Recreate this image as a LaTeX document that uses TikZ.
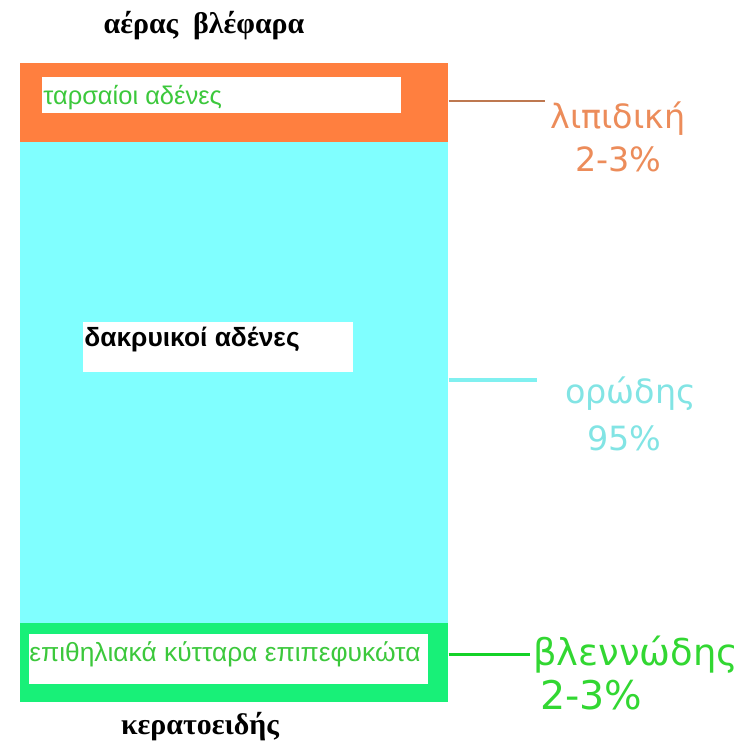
\documentclass[tikz,border=0pt]{standalone}
\usepackage{fontspec}
\setmainfont{Liberation Sans}
\newfontfamily\labelfont{DejaVu Sans}
\newfontfamily\titlefont{Liberation Serif}
\usetikzlibrary{positioning}
\definecolor{lipidfill}{RGB}{255,127,63}
\definecolor{aqueousfill}{RGB}{128,255,255}
\definecolor{mucinfill}{RGB}{24,240,120}
\definecolor{glandgreen}{RGB}{60,200,60}
\definecolor{lipidtext}{RGB}{236,140,90}
\definecolor{aqueoustext}{RGB}{130,228,228}
\definecolor{mucintext}{RGB}{50,215,50}
\definecolor{lipidline}{RGB}{190,120,80}
\definecolor{aqueousline}{RGB}{128,240,240}
\definecolor{mucinline}{RGB}{20,210,40}

\begin{document}
\begin{tikzpicture}[
        x=0.02cm, y=-0.02cm,
        layer/.style={rectangle, draw=none, minimum width=8.56cm, inner sep=0pt, anchor=north west},
        whitebox/.style={rectangle, fill=white, inner sep=0pt, anchor=north west},
        gland/.style={anchor=base west, inner sep=0pt, font=\fontsize{14.5}{17}\selectfont},
        layername/.style={anchor=base west, inner sep=0pt, font=\labelfont\fontsize{19}{22}\selectfont},
        side/.style={anchor=base, inner sep=0pt, font=\titlefont\bfseries\fontsize{17}{20}\selectfont},
        link/.style={line width=1.7pt}
    ]
        \useasboundingbox (0,0) rectangle (741,744);
        % tear film layers
        \node[layer, fill=lipidfill, minimum height=1.58cm] (lipid) at (20,63) {};
        \node[layer, fill=aqueousfill, minimum height=9.62cm] (aqueous) at (20,142) {};
        \node[layer, fill=mucinfill, minimum height=1.58cm] (mucin) at (20,623) {};
        
        \node[whitebox, minimum width=7.18cm, minimum height=0.72cm] (tarsalbox) at (42,77) {};
        \node[whitebox, minimum width=5.4cm, minimum height=1cm] (lacrimalbox) at (83,322) {};
        \node[whitebox, minimum width=7.98cm, minimum height=1cm] (epithbox) at (29,634) {};
        
        \node[gland, text=glandgreen] (tarsal) at (43,104) {ταρσαίοι αδένες};
        \node[gland, font=\bfseries\fontsize{15}{18}\selectfont] (lacrimal) at (84,346) {δακρυικοί αδένες};
        \node[gland, text=glandgreen, font=\fontsize{15}{18}\selectfont] (epith) at (29,661) {επιθηλιακά κύτταρα επιπεφυκώτα};
        
        \node[side] (air) at (204,33) {αέρας\ \ βλέφαρα};
        \node[side] (cornea) at (200,734) {κερατοειδής};
        
        % layer names
        \node[layername, text=lipidtext] (lipidname) at (550,128) {λιπιδική};
        \node[layername, text=lipidtext] (lipidpct) at (575,171) {2-3\%};
        \node[layername, text=aqueoustext] (aqname) at (565,403) {ορώδης};
        \node[layername, text=aqueoustext] (aqpct) at (587,450) {95\%};
        \node[layername, text=mucintext, font=\labelfont\fontsize{21}{24}\selectfont] (mucname) at (533,665) {βλεννώδης};
        \node[layername, text=mucintext, font=\labelfont\fontsize{22.5}{26}\selectfont] (mucpct) at (540,709) {2-3\%};
        
        \coordinate (lipidend) at (545,101);
        \coordinate (aqend) at (537,380);
        \coordinate (mucend) at (530,654);
        \draw[link, lipidline] (lipid.east |- lipidend) -- (lipidend);
        \draw[link, aqueousline, line width=2.2pt] (aqueous.east |- aqend) -- (aqend);
        \draw[link, mucinline] (mucin.east |- mucend) -- (mucend);
    \end{tikzpicture}
\end{document}
